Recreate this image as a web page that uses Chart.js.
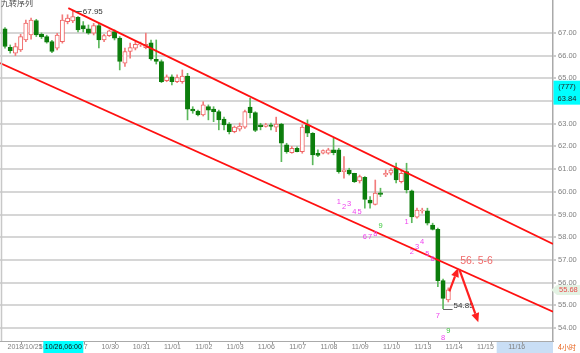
<!DOCTYPE html>
<html><head><meta charset="utf-8">
<script src="https://cdn.jsdelivr.net/npm/chart.js@4/dist/chart.umd.min.js"></script>
<style>html,body{margin:0;padding:0;background:#fff;overflow:hidden}canvas{display:block}</style>
</head><body>
<canvas id="c" width="580" height="353"></canvas>
<script>
// ---- data (4-hour candles, index 0 = first candle of 2018/10/25) ----
const opens  = [67.18,66.37,66.11,66.25,66.69,66.91,67.54,66.94,66.84,66.62,66.33,66.62,67.50,67.53,67.69,67.32,67.18,66.99,67.32,66.69,
                66.88,67.06,66.77,65.67,66.18,66.33,66.47,66.35,66.56,65.84,65.74,64.90,65.07,64.85,64.85,65.10,63.64,63.56,63.39,63.75,
                63.64,63.53,63.20,62.99,62.65,62.76,62.85,63.73,63.49,62.95,62.88,62.95,62.85,62.98,62.07,61.73,61.92,61.77,62.95,62.58,
                61.70,61.70,61.70,61.85,61.85,60.89,60.96,60.82,60.48,60.64,59.64,59.45,59.96,60.74,60.82,61.05,60.45,60.89,60.05,58.88,
                59.16,59.16,58.54,58.35,56.09,55.24];
const highs  = [67.23,66.47,66.55,66.94,67.57,67.65,67.60,67.00,66.90,66.67,66.98,67.80,67.80,67.95,67.72,67.50,67.35,67.42,67.42,66.94,
                67.13,67.13,66.84,66.33,66.55,66.62,66.60,66.99,66.69,66.69,65.81,65.15,65.15,65.15,65.37,65.22,63.75,63.60,63.97,63.83,
                63.75,63.60,63.29,63.05,62.90,63.03,63.60,64.12,63.53,63.02,63.02,63.03,63.29,63.02,62.14,62.00,61.98,62.95,63.17,62.61,
                61.85,61.85,61.92,62.36,61.92,61.55,61.04,60.82,60.74,60.67,59.79,60.52,60.16,60.96,61.04,61.27,60.96,61.26,60.08,59.28,
                59.28,59.28,58.62,58.40,56.16,55.77];
const lows   = [66.33,66.11,66.00,66.18,66.62,66.72,66.84,66.75,66.55,66.13,66.25,66.55,67.40,67.45,67.04,67.04,66.94,66.91,66.34,66.62,
                66.84,66.69,65.37,65.52,65.89,66.25,66.40,66.30,65.80,65.63,64.81,64.85,64.71,64.81,64.78,63.17,63.46,63.34,63.34,63.17,
                63.09,62.73,62.73,62.55,62.60,62.68,62.79,63.26,62.65,62.73,62.85,62.73,62.65,61.33,61.70,61.70,61.76,61.70,62.43,61.19,
                61.55,61.67,61.66,61.63,60.82,60.60,60.74,60.41,60.39,59.28,59.28,59.42,59.79,60.67,60.74,60.39,60.39,59.95,58.64,58.84,
                59.06,58.54,58.32,55.82,54.85,55.15];
const closes = [66.40,66.22,66.40,66.84,67.43,67.57,66.91,66.82,66.59,66.18,66.91,67.57,67.65,67.72,67.13,67.18,66.99,67.32,66.69,66.88,
                67.09,66.77,65.74,66.18,66.35,66.50,66.52,66.50,65.85,65.74,64.85,65.07,64.85,65.03,65.10,63.64,63.56,63.39,63.83,63.60,
                63.53,63.17,62.95,62.65,62.85,62.90,63.53,63.49,62.70,62.87,62.95,62.88,62.98,62.14,61.77,61.92,61.77,62.85,62.58,61.63,
                61.60,61.82,61.85,61.73,60.89,60.96,60.79,60.45,60.67,59.67,59.50,59.94,59.89,60.82,60.96,60.52,60.82,60.08,58.90,59.20,
                59.20,58.62,58.35,56.09,55.31,55.68];

const dayLabels  = ['2018/10/25','10/26','10/27','10/30','10/31','11/01','11/02','11/03','11/06','11/07','11/08','11/09','11/10','11/13','11/14','11/15','11/16'];
const dayTickIdx = [0.2,6.2,12.2,18.2,24.2,30.2,36.2,42.2,48.2,54.2,60.2,66.2,72.2,78.2,84.2,90.2,96.2];
const yTicks = [54,55,56,57,58,59,60,61,62,63,64,65,66,67];

// channel lines (candle index, price)
const upperX = [12.14, 105.08], upperY = [68.09, 57.70];
const lowerX = [-0.96, 105.08], lowerY = [65.67, 54.72];

// TD sequential (九转序列) counts: candle index and label
const tdIdx  = [64,65,66,67,68,69,70,71,72, 77,78,79,80,81,82,83,84,85];
const tdText = ['1','2','3','4','5','6','7','8','9','1','2','3','4','5','6','7','8','9'];

// forecast arrows (candle index, price)
const arrowUpX = [85.2, 86.9],  arrowUpY = [55.62, 56.65];
const arrowDnX = [87.1, 90.76], arrowDnY = [56.60, 54.26];
const targetText = '56. 5-6';

const highMark = {idx: 13, value: 67.95, text: '67.95'};
const lowMark  = {idx: 84, value: 54.85, text: '54.85'};
const lastPrice = 55.68;
const crossValue = 63.84, crossCount = '(777)', crossTime = '10/26,06:00';

const xMin = -0.9588, xMax = 105.08, yMin = 53.43, yMax = 68.45;

// ---- chart ----
const N = opens.length;
const idxs = Array.from({length: N}, (_, i) => i);
const isUp = i => closes[i] >= opens[i];
const RED = '#f06464', RED_W = '#f27c7c', GREEN = '#0c7d0c', GREEN_W = '#5cb85c';
const FONT = "'Liberation Sans', Arial, sans-serif";
const CJK = "'Noto Sans CJK SC', sans-serif";

const deco = {
  id: 'deco',
  beforeDraw(chart) {
    const {ctx, chartArea: a, scales: {x}} = chart;
    const px = x.getPixelForValue(dayTickIdx[dayTickIdx.length - 1]);
    ctx.save();
    ctx.fillStyle = '#c9def5';
    ctx.fillRect(px - 10, a.bottom + 1, a.right - (px - 10), chart.height - a.bottom - 1);
    ctx.restore();
  },
  afterDatasetsDraw(chart) {
    const {ctx, scales: {x, y}} = chart;
    ctx.save();
    // TD counts
    ctx.font = '7.5px ' + FONT;
    ctx.textAlign = 'center';
    ctx.textBaseline = 'middle';
    tdIdx.forEach((i, k) => {
      ctx.fillStyle = tdText[k] === '9' ? '#3cc83c' : '#ee44ee';
      ctx.fillText(tdText[k], x.getPixelForValue(i), y.getPixelForValue(lows[i]) + 29);
    });
    // high marker
    ctx.strokeStyle = '#555'; ctx.lineWidth = 1;
    let hx = x.getPixelForValue(highMark.idx), hy = y.getPixelForValue(highMark.value);
    ctx.beginPath(); ctx.moveTo(hx + 3, Math.round(hy) + 0.5); ctx.lineTo(hx + 9, Math.round(hy) + 0.5); ctx.stroke();
    ctx.fillStyle = '#333'; ctx.font = '8px ' + FONT; ctx.textAlign = 'left'; ctx.textBaseline = 'middle';
    ctx.fillText(highMark.text, hx + 10, hy);
    // low marker
    let lx = x.getPixelForValue(lowMark.idx), ly = y.getPixelForValue(lowMark.value);
    ctx.strokeStyle = '#666';
    ctx.beginPath(); ctx.moveTo(lx, Math.round(ly) + 0.5); ctx.lineTo(lx + 9.5, Math.round(ly) + 0.5); ctx.stroke();
    ctx.textBaseline = 'alphabetic';
    ctx.fillText(lowMark.text, lx + 10.5, ly - 1);
    // arrows
    const arrow = (x1, y1, x2, y2) => {
      const ang = Math.atan2(y2 - y1, x2 - x1), L = 9, W = 4;
      const bx = x2 - L * Math.cos(ang), by = y2 - L * Math.sin(ang);
      ctx.strokeStyle = '#ff2020'; ctx.fillStyle = '#ff2020'; ctx.lineWidth = 2.2;
      ctx.beginPath(); ctx.moveTo(x1, y1); ctx.lineTo(bx, by); ctx.stroke();
      ctx.beginPath(); ctx.moveTo(x2, y2);
      ctx.lineTo(bx + W * Math.sin(ang), by - W * Math.cos(ang));
      ctx.lineTo(bx - W * Math.sin(ang), by + W * Math.cos(ang));
      ctx.closePath(); ctx.fill();
    };
    const ux1 = x.getPixelForValue(arrowUpX[0]), uy1 = y.getPixelForValue(arrowUpY[0]);
    const ux2 = x.getPixelForValue(arrowUpX[1]), uy2 = y.getPixelForValue(arrowUpY[1]);
    arrow(ux1, uy1, ux2, uy2);
    arrow(x.getPixelForValue(arrowDnX[0]), y.getPixelForValue(arrowDnY[0]),
          x.getPixelForValue(arrowDnX[1]), y.getPixelForValue(arrowDnY[1]));
    ctx.fillStyle = '#f06a6a'; ctx.font = '10.5px ' + FONT; ctx.textAlign = 'left'; ctx.textBaseline = 'middle';
    ctx.fillText(targetText, ux2 + 2, uy2 - 7);
    ctx.restore();
  },
  afterDraw(chart) {
    const {ctx, chartArea: a, scales: {x, y}} = chart;
    ctx.save();
    // left frame line
    ctx.strokeStyle = '#c8c8c8'; ctx.lineWidth = 1.5;
    ctx.beginPath(); ctx.moveTo(1.5, 0); ctx.lineTo(1.5, a.bottom); ctx.stroke();
    // title
    ctx.fillStyle = '#444'; ctx.font = '8px ' + CJK; ctx.textAlign = 'left'; ctx.textBaseline = 'alphabetic';
    ctx.fillText('九转序列', 1, 6);
    // crosshair time box
    const bx = x.getPixelForValue(dayTickIdx[1]) + 6;
    ctx.fillStyle = '#00ffff'; ctx.fillRect(bx, a.bottom, 40, chart.height - a.bottom);
    ctx.fillStyle = '#111'; ctx.font = '7px ' + FONT; ctx.textAlign = 'center'; ctx.textBaseline = 'middle';
    ctx.fillText(crossTime, bx + 20, a.bottom + 6.5);
    // crosshair value box
    const cy = y.getPixelForValue(crossValue);
    ctx.fillStyle = '#00ffff'; ctx.fillRect(a.right + 0.5, cy - 24, chart.width - a.right, 24);
    ctx.fillStyle = '#222'; ctx.font = '7.5px ' + FONT;
    ctx.fillText(crossCount, a.right + 14, cy - 17.5);
    ctx.fillText(crossValue.toFixed(2), a.right + 14, cy - 6);
    // last price bubble
    const py = y.getPixelForValue(lastPrice);
    ctx.fillStyle = '#e3f2e3';
    ctx.beginPath(); ctx.moveTo(a.right - 2, py); ctx.lineTo(a.right + 4, py - 5); ctx.lineTo(chart.width, py - 5);
    ctx.lineTo(chart.width, py + 5); ctx.lineTo(a.right + 4, py + 5); ctx.closePath(); ctx.fill();
    ctx.fillStyle = '#e84c4c'; ctx.textAlign = 'left';
    ctx.fillText(lastPrice.toFixed(2), a.right + 6, py);
    // period label
    ctx.fillStyle = '#e8641e'; ctx.font = '7px ' + CJK; ctx.textAlign = 'left';
    ctx.fillText('4小时', a.right + 5, a.bottom + 6.5);
    ctx.restore();
  }
};

new Chart(document.getElementById('c'), {
  type: 'bar',
  data: {
    datasets: [
      { type: 'line', data: upperX.map((v, i) => ({x: v, y: upperY[i]})), borderColor: '#ff1010', borderWidth: 1.8,
        pointRadius: 0, order: 0 },
      { type: 'line', data: lowerX.map((v, i) => ({x: v, y: lowerY[i]})), borderColor: '#ff1010', borderWidth: 1.8,
        pointRadius: 0, order: 0 },
      { type: 'bar', data: idxs.map(i => ({x: i, y: [opens[i], closes[i]]})), grouped: false, barThickness: 4.3,
        borderSkipped: false, borderWidth: 1,
        backgroundColor: c => isUp(c.dataIndex) ? '#ffffff' : GREEN,
        borderColor: c => isUp(c.dataIndex) ? RED : GREEN, order: 1 },
      { type: 'bar', data: idxs.map(i => ({x: i, y: [lows[i], highs[i]]})), grouped: false, barThickness: 1,
        borderWidth: 0, backgroundColor: c => isUp(c.dataIndex) ? RED_W : GREEN_W, order: 2 }
    ]
  },
  options: {
    responsive: false, animation: false, devicePixelRatio: 1, events: [],
    layout: {padding: 0},
    plugins: {legend: {display: false}, tooltip: {enabled: false}},
    scales: {
      x: {
        type: 'linear', min: xMin, max: xMax, offset: false, position: 'bottom',
        afterBuildTicks: s => { s.ticks = dayTickIdx.map(v => ({value: v})); },
        afterFit: s => { s.height = 12; s.paddingLeft = 0; s.paddingRight = 0; },
        ticks: {autoSkip: false, maxRotation: 0, minRotation: 0, align: 'start', padding: 0, labelOffset: 1.5,
                color: '#808080', font: {family: FONT, size: 7, lineHeight: 1}, callback: (v, i) => dayLabels[i]},
        grid: {drawOnChartArea: false, drawTicks: true, tickLength: 3, tickColor: '#999', tickWidth: 1},
        border: {display: true, color: '#aaa', width: 1}
      },
      y: {
        position: 'right', min: yMin, max: yMax,
        afterBuildTicks: s => { s.ticks = yTicks.map(v => ({value: v})); },
        afterFit: s => { s.width = 27; s.paddingTop = 0; s.paddingBottom = 0; },
        ticks: {color: '#808080', padding: 2, font: {family: FONT, size: 7.5}, callback: v => v.toFixed(2)},
        grid: {color: '#d6d6d6', lineWidth: 2, drawTicks: true, tickLength: 3, tickColor: '#999', tickWidth: 1},
        border: {display: true, color: '#aaa', width: 1.5}
      }
    }
  },
  plugins: [deco]
});
</script>
</body></html>
